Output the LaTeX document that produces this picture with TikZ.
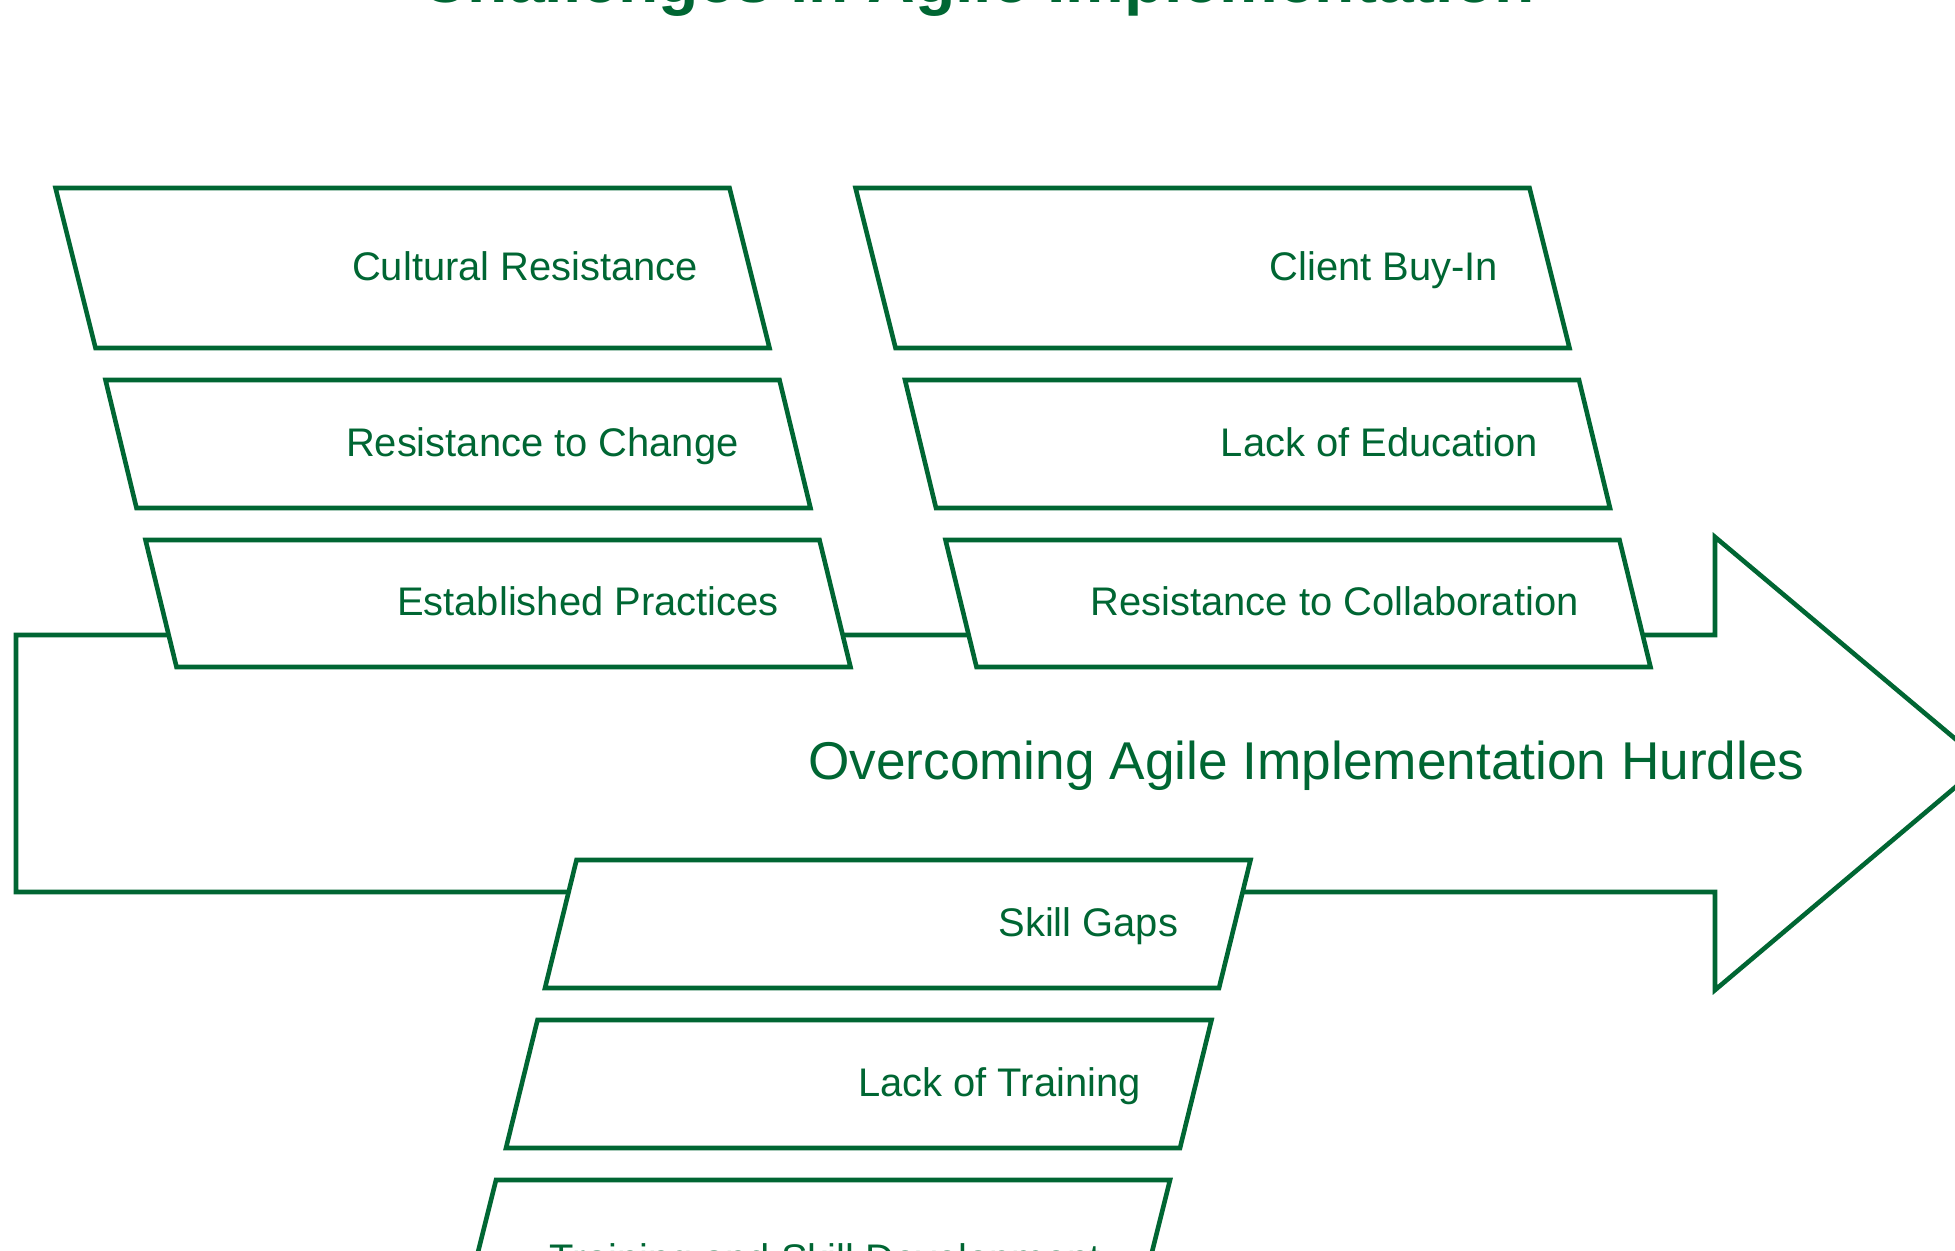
\documentclass[tikz,border=0pt]{standalone}
\usepackage{fontspec}
\setmainfont{Liberation Sans}
\usepackage{xcolor}
\usepackage{tikz}
\definecolor{agilegreen}{RGB}{0,102,51}

\begin{document}
\begin{tikzpicture}[x=0.5pt, y=-0.5pt,
        spine/.style={draw=agilegreen, line width=2.3pt, fill=white},
        cause/.style={draw=agilegreen, line width=2.3pt, fill=white},
        causetext/.style={text=agilegreen, inner sep=0pt, anchor=base east,
            font=\fontsize{19.95}{23}\selectfont},
        goaltext/.style={text=agilegreen, inner sep=0pt, anchor=base east,
            font=\fontsize{26.6}{31}\selectfont},
        titletext/.style={text=agilegreen, inner sep=0pt, anchor=base,
            font=\bfseries\fontsize{33}{40}\selectfont}]

        % The page
        \useasboundingbox (0,0) rectangle (1955,1250);

        % The title
        \node[titletext] (title) at (977.5,2) {Challenges in Agile Implementation};

        % The spine
        \draw[spine] (16,635) -- (1715,635) -- (1715,537) -- (1984,763)
            -- (1715,990) -- (1715,892) -- (16,892) -- cycle;
        \node[goaltext] (goal) at (1805,779) {Overcoming Agile Implementation Hurdles};

        % The boxes above, first column
        \draw[cause] (55.5,188) -- (729.5,188) -- (769.5,348) -- (95.5,348) -- cycle;
        \draw[cause] (105.5,380) -- (779.5,380) -- (810.5,508) -- (136.5,508) -- cycle;
        \draw[cause] (145.5,540) -- (819.5,540) -- (850.5,667) -- (176.5,667) -- cycle;

        % The boxes above, second column
        \draw[cause] (855.5,188) -- (1529.5,188) -- (1569.5,348) -- (895.5,348) -- cycle;
        \draw[cause] (905,380) -- (1579,380) -- (1610,508) -- (936,508) -- cycle;
        \draw[cause] (945.5,540) -- (1619.5,540) -- (1650.5,667) -- (976.5,667) -- cycle;

        % The boxes below
        \draw[cause] (576.5,860) -- (1250.5,860) -- (1219,988) -- (545,988) -- cycle;
        \draw[cause] (537.5,1020) -- (1211.5,1020) -- (1180,1148) -- (506,1148) -- cycle;
        \draw[cause] (496,1180) -- (1170,1180) -- (1130,1340) -- (456,1340) -- cycle;

        % The words in the boxes
        \node[causetext] (cultural) at (698.5,280) {Cultural Resistance};
        \node[causetext] (change) at (739,456) {Resistance to Change};
        \node[causetext] (practices) at (779,615.5) {Established Practices};

        \node[causetext] (client) at (1498.5,280) {Client Buy-In};
        \node[causetext] (education) at (1538.5,456) {Lack of Education};
        \node[causetext] (collab) at (1579,615.5) {Resistance to Collaboration};

        \node[causetext] (skills) at (1178.5,936) {Skill Gaps};
        \node[causetext] (training) at (1141,1096) {Lack of Training};
        \node[causetext] (develop) at (1101,1272) {Training and Skill Development};

    \end{tikzpicture}
\end{document}
